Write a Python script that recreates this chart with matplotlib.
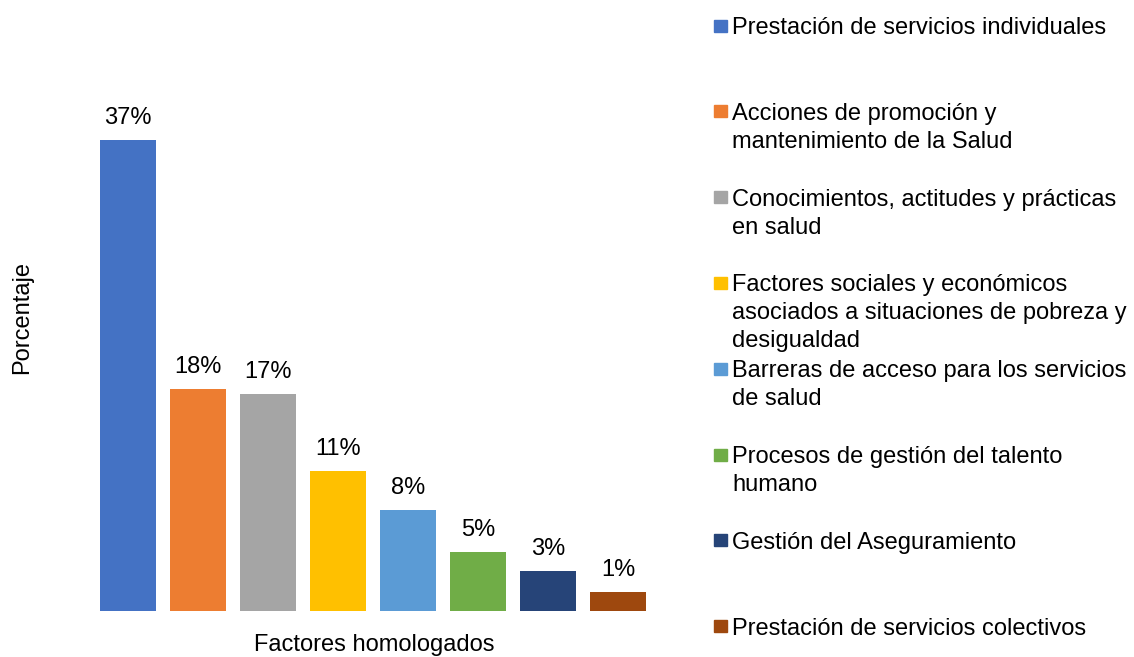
import matplotlib.pyplot as plt
from matplotlib.patches import Rectangle

# data
factores = ["Prestación de servicios individuales",
            "Acciones de promoción y\nmantenimiento de la Salud",
            "Conocimientos, actitudes y prácticas\nen salud",
            "Factores sociales y económicos\nasociados a situaciones de pobreza y\ndesigualdad",
            "Barreras de acceso para los servicios\nde salud",
            "Procesos de gestión del talento\nhumano",
            "Gestión del Aseguramiento",
            "Prestación de servicios colectivos"]
porcentajes = [37.0, 17.4, 17.0, 11.0, 7.9, 4.6, 3.1, 1.45]
etiquetas = ["37%", "18%", "17%", "11%", "8%", "5%", "3%", "1%"]
colores = ["#4472C4", "#ED7D31", "#A5A5A5", "#FFC000",
           "#5B9BD5", "#70AD47", "#264478", "#9E480E"]

plt.rcParams['font.family'] = ['Liberation Sans', 'DejaVu Sans']
FS = 17

W, H = 1134, 657
fig = plt.figure(figsize=(W / 100, H / 100), dpi=100)

# plot area in pixels
left, right, bottom, top = 93, 653, 610.7, 25
ax = fig.add_axes([left / W, 1 - bottom / H, (right - left) / W, (bottom - top) / H])

x = range(len(porcentajes))
bars = ax.bar(x, porcentajes, width=0.8, color=colores)
ax.set_xlim(-0.5, len(porcentajes) - 0.5)
ax.set_ylim(0, (bottom - top) / (470.7 / 37.0))

for b, lab in zip(bars, etiquetas):
    ax.annotate(lab, xy=(b.get_x() + b.get_width() / 2, b.get_height()),
                xytext=(0, 8), textcoords='offset points',
                ha='center', va='bottom', fontsize=FS)

for s in ax.spines.values():
    s.set_visible(False)
ax.set_xticks([])
ax.set_yticks([])

fig.text(22 / W, 1 - 318 / H, "Porcentaje", rotation=90,
         ha='center', va='center', fontsize=FS)
fig.text(374 / W, 1 - 645 / H, "Factores homologados",
         ha='center', va='center', fontsize=FS)

# legend, built by hand to keep the even spacing
y0, paso, interlinea = 25.5, 85.8, 28
for i, (nombre, c) in enumerate(zip(factores, colores)):
    yc = y0 + i * paso
    fig.add_artist(Rectangle((714 / W, 1 - (yc + 6) / H), 12.5 / W, 12 / H,
                             transform=fig.transFigure, color=c))
    for j, linea in enumerate(nombre.split("\n")):
        fig.text(732 / W, 1 - (yc + j * interlinea) / H, linea,
                 ha='left', va='center_baseline', fontsize=FS)

fig.savefig("out.png", dpi=100)
